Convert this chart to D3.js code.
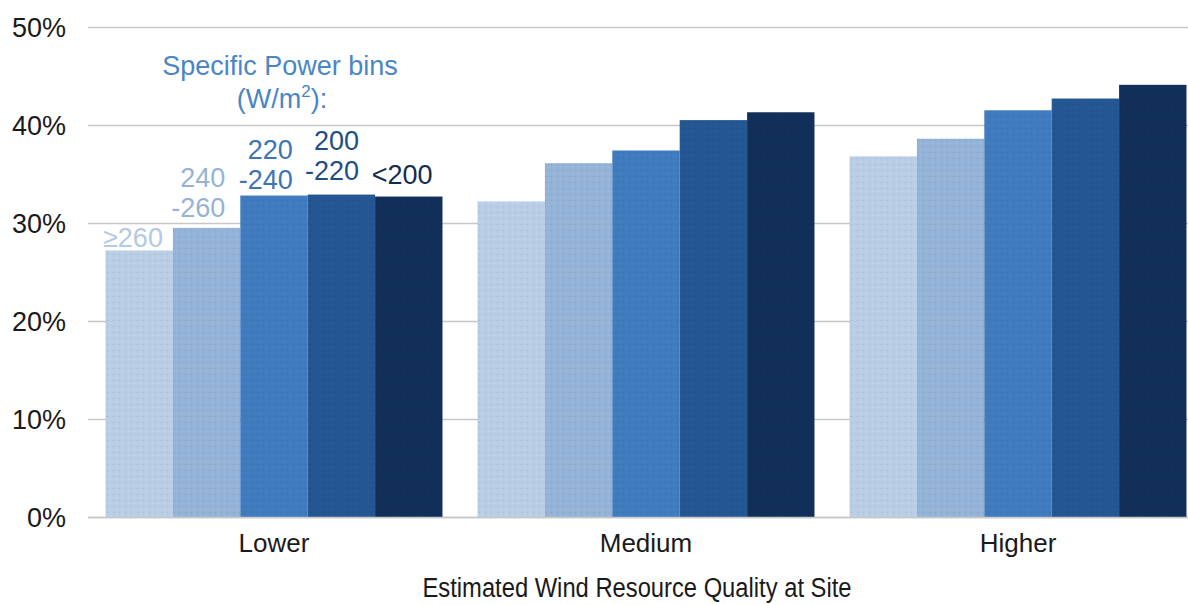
<!DOCTYPE html>
<html><head><meta charset="utf-8">
<script src="https://cdn.jsdelivr.net/npm/d3@7"></script>
<style>
html,body{margin:0;padding:0;background:#fff;}
svg text{font-family:"Liberation Sans",Arial,sans-serif;}
</style></head>
<body><svg id="c" width="1188" height="605"></svg>
<script>
const categories = ["Lower","Medium","Higher"];
const bins = ["≥260","240-260","220-240","200-220","<200"];
const binLabels = [["≥260"],["240","-260"],["220","-240"],["200","-220"],["<200"]];
const values = [
  [27.2, 29.5, 32.8, 32.9, 32.7],
  [32.2, 36.1, 37.4, 40.5, 41.3],
  [36.8, 38.6, 41.5, 42.7, 44.1]
];
const yTicks = [0,10,20,30,40,50];
const colors = ["#b9cde4","#95b3d7","#3f7bbd","#245791","#112f59"];
const labelColors = ["#b4c9e2","#95b3d7","#3c74b4","#1f4e85","#142c4e"];

const svg = d3.select("#c");
const W=1188,H=605;
const FS = 27;
const x0 = d3.scaleBand().domain(categories).range([88,1204]).paddingInner(0);
const x1 = d3.scaleBand().domain(bins).range([0,x0.bandwidth()]).paddingInner(0).paddingOuter(0.26);
const y = d3.scaleLinear().domain([0,50]).range([517,27]);

// gridlines
svg.append("g").selectAll("line").data(yTicks).join("line")
  .attr("x1",88).attr("x2",W).attr("y1",d=>Math.round(y(d))+0.5).attr("y2",d=>Math.round(y(d))+0.5)
  .attr("stroke","#c8c8c8").attr("stroke-width",1.5);

// y tick labels
svg.append("g").selectAll("text").data(yTicks).join("text")
  .attr("x",66).attr("y",d=>y(d)+10).attr("text-anchor","end")
  .attr("font-size",FS).attr("fill","#1a1a1a").text(d=>d+"%");

// dotted texture pattern
const defs = svg.append("defs");
colors.forEach((c,i)=>{
  const p = defs.append("pattern").attr("id","p"+i).attr("width",6).attr("height",6).attr("patternUnits","userSpaceOnUse");
  p.append("rect").attr("width",6).attr("height",6).attr("fill",c);
  p.append("rect").attr("x",1).attr("y",2).attr("width",1).attr("height",1).attr("fill",d3.color(c).darker(0.35));
  p.append("rect").attr("x",4).attr("y",5).attr("width",1).attr("height",1).attr("fill",d3.color(c).brighter(0.25));
});

// bars
const g = svg.append("g").selectAll("g").data(categories).join("g")
  .attr("transform",d=>`translate(${x0(d)},0)`);
g.selectAll("rect").data((d,ci)=>values[ci].map((v,bi)=>({v,bi}))).join("rect")
  .attr("x",d=>x1(bins[d.bi])).attr("width",x1.bandwidth())
  .attr("y",d=>y(d.v)).attr("height",d=>y(0)-y(d.v))
  .attr("fill",d=>`url(#p${d.bi})`);

// baseline
svg.append("line").attr("x1",88).attr("x2",W).attr("y1",517.5).attr("y2",517.5).attr("stroke","#c8c8c8").attr("stroke-width",1.5);

// category labels
svg.append("g").selectAll("text").data(categories).join("text")
  .attr("x",d=>x0(d)+x0.bandwidth()/2).attr("y",552).attr("text-anchor","middle")
  .attr("font-size",26).attr("fill","#1a1a1a").text(d=>d);

svg.append("text").attr("x",637).attr("y",597).attr("text-anchor","middle")
  .attr("font-size",FS).attr("fill","#1a1a1a")
  .attr("textLength",429).attr("lengthAdjust","spacingAndGlyphs")
  .text("Estimated Wind Resource Quality at Site");

// legend title
svg.append("text").attr("x",280).attr("y",75).attr("text-anchor","middle")
  .attr("font-size",FS).attr("fill","#4a86c5").text("Specific Power bins");
const t2 = svg.append("text").attr("x",282).attr("y",108).attr("text-anchor","middle")
  .attr("font-size",FS).attr("fill","#4a86c5");
t2.append("tspan").text("(W/m");
t2.append("tspan").attr("font-size",17).attr("dy",-11).text("2");
t2.append("tspan").attr("dy",11).text("):");

// bin labels above the Lower group bars
const offsets = [3, 11, 7, 15, 13];
const rightPad = [10, 15, 15, 16, 10];
binLabels.forEach((lines,bi)=>{
  const rx = x0(categories[0]) + x1(bins[bi]) + x1.bandwidth() - rightPad[bi];
  const base = y(values[0][bi]) - offsets[bi];
  lines.forEach((ln,li)=>{
    svg.append("text").attr("x",rx).attr("y",base - (lines.length-1-li)*30)
      .attr("text-anchor","end").attr("font-size",FS).attr("fill",labelColors[bi]).text(ln);
  });
});
</script></body></html>
